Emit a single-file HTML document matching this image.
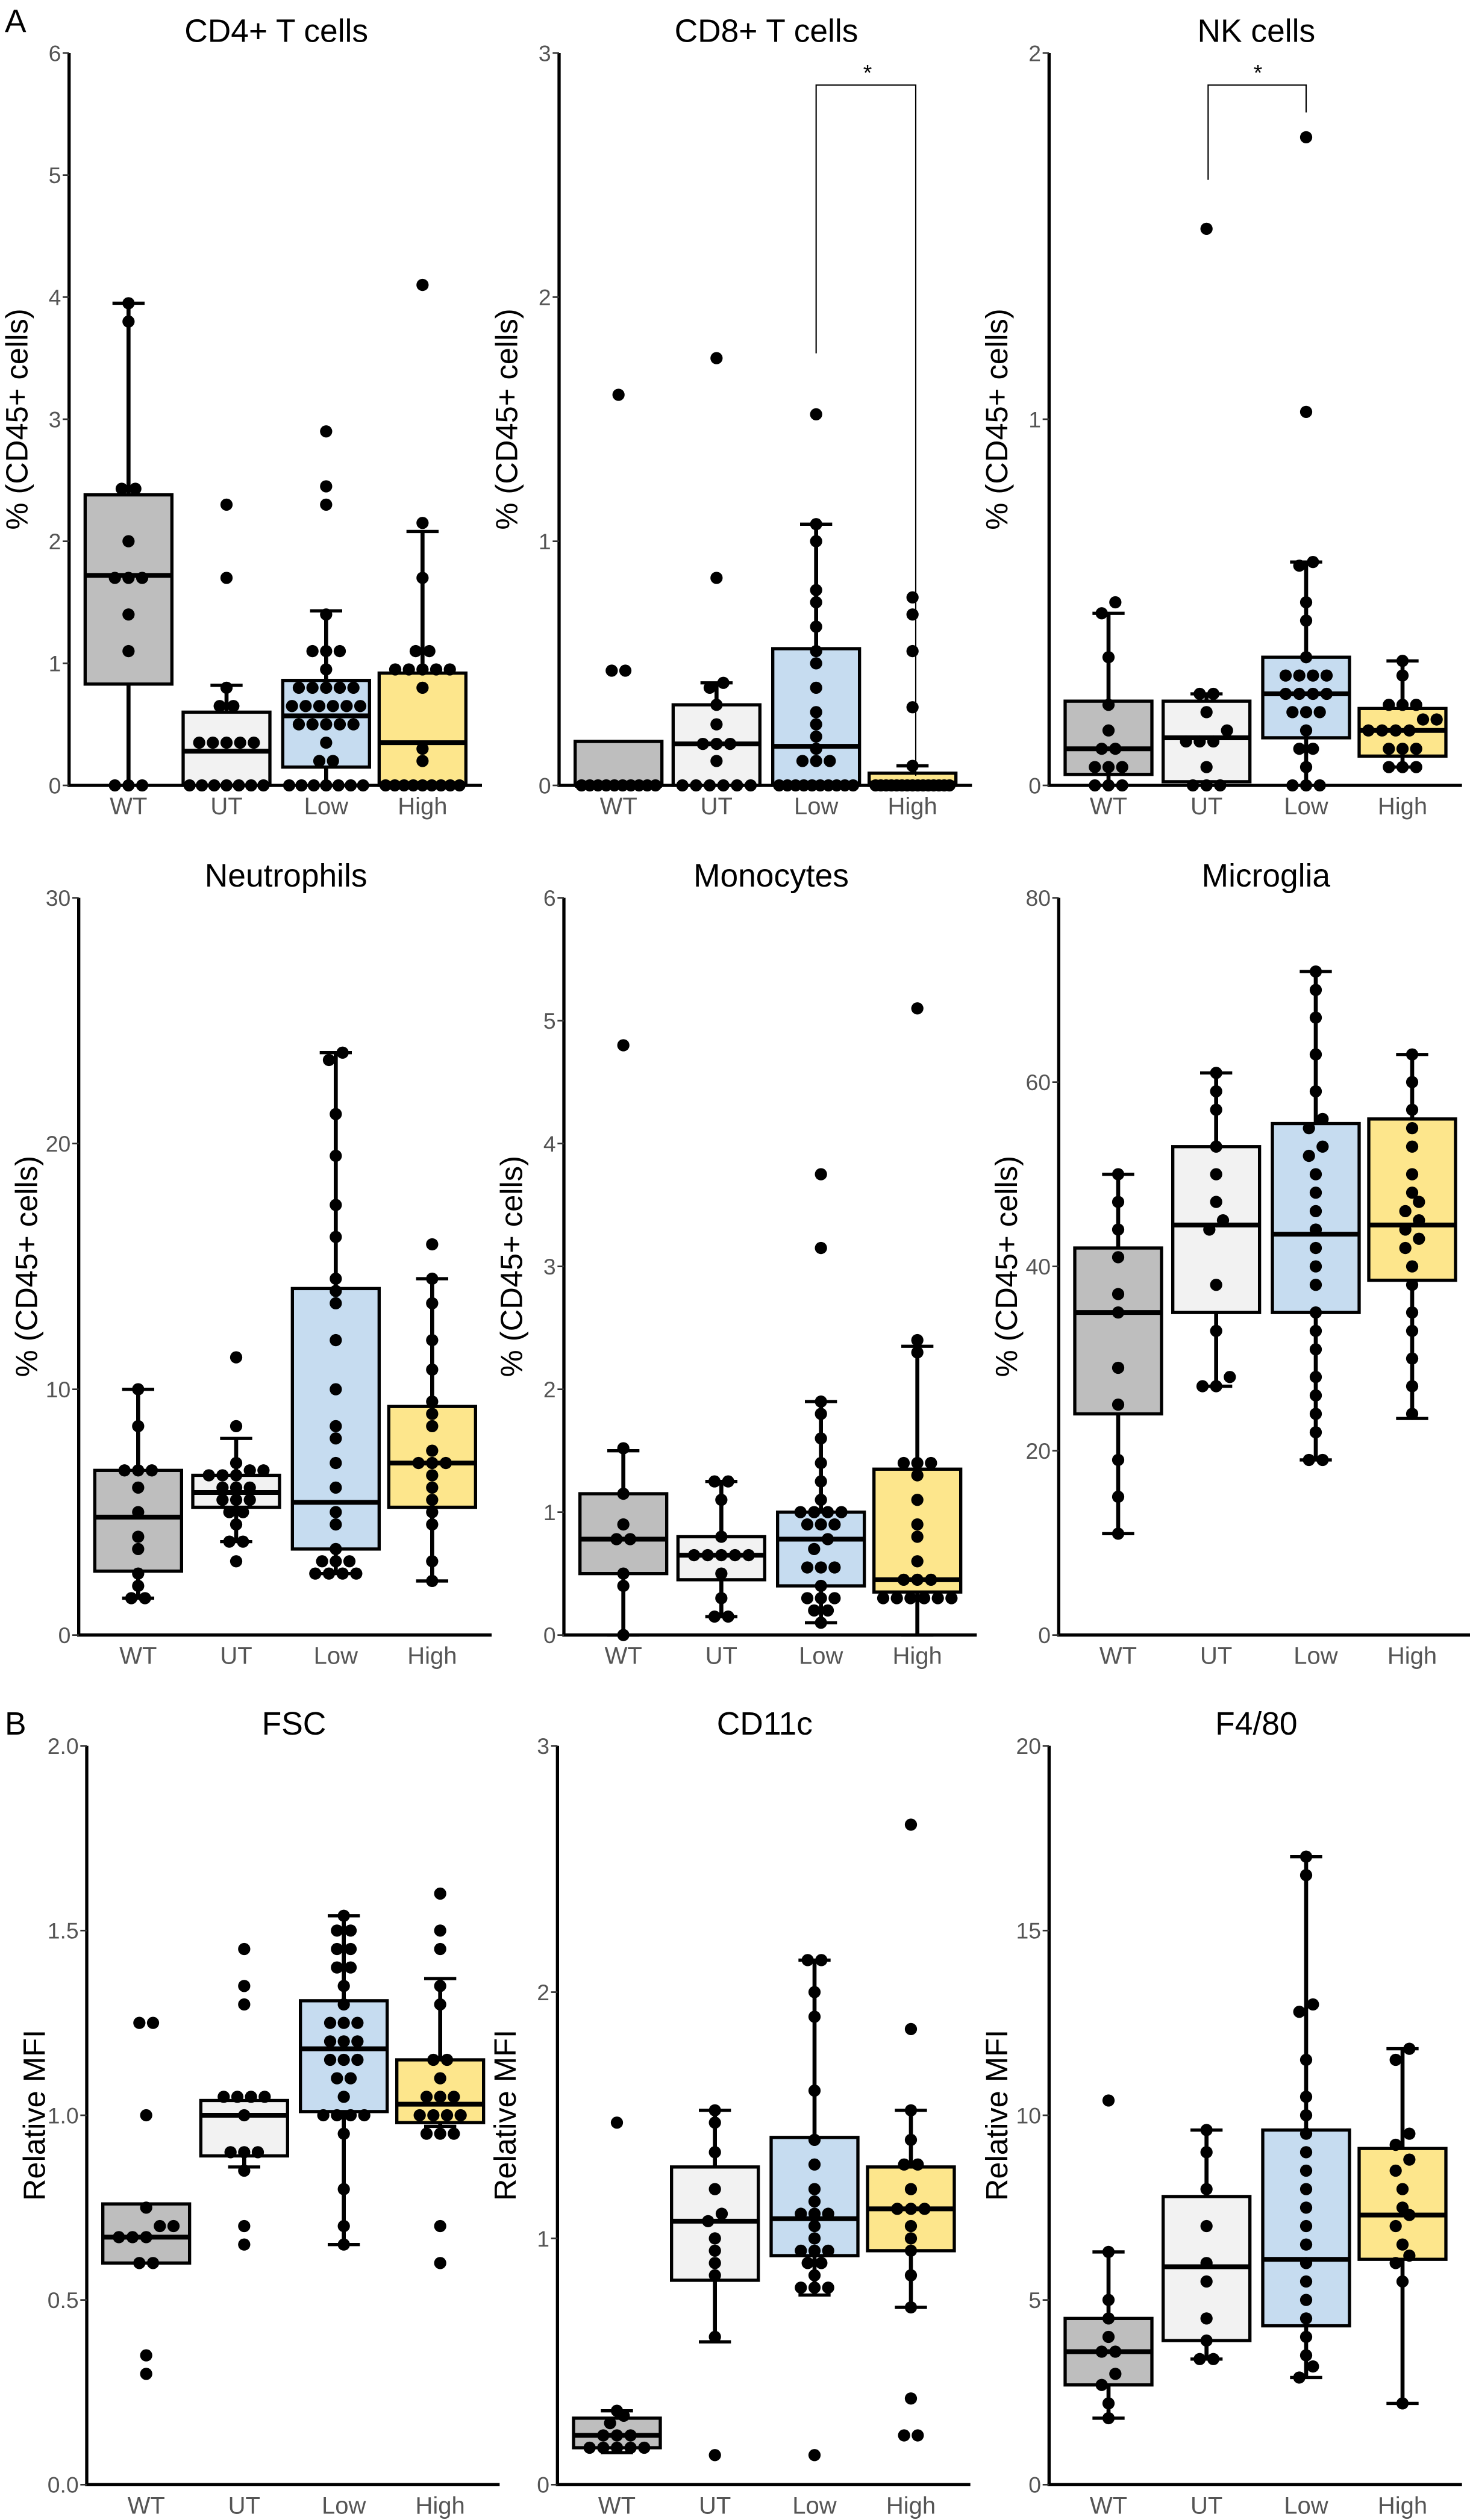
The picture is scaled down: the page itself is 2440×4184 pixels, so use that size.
<!DOCTYPE html>
<html><head><meta charset="utf-8"><style>
html,body{margin:0;padding:0;background:#fff;}
svg{display:block;}
text{font-family:"Liberation Sans",Arial,sans-serif;}
</style></head><body>
<svg id="fig" width="2440" height="4184" viewBox="0 0 915 1569" xmlns="http://www.w3.org/2000/svg">
<text x="3" y="20" font-size="20">A</text>
<text x="3" y="1080" font-size="20">B</text>
</svg>
<script>
const groups = ["WT","UT","Low","High"];
const fills = ["#bebebe","#f2f2f2","#c6dcf0","#fde68c"];

// CD4+ T cells
const cd4Box = [[0,0.83,1.72,2.38,3.95],[0,0,0.28,0.6,0.82],[0,0.15,0.57,0.86,1.43],[0,0,0.35,0.92,2.08]];
const cd4Pts = [[3.95,3.8,2.43,2.43,2.0,1.7,1.7,1.7,1.4,1.1,0,0,0],
 [2.3,1.7,0.8,0.65,0.65,0.35,0.35,0.35,0.35,0.35,0,0,0,0,0,0,0],
 [2.9,2.45,2.3,1.4,1.1,1.1,1.1,0.95,0.8,0.8,0.8,0.8,0.8,0.65,0.65,0.65,0.65,0.65,0.65,0.5,0.5,0.5,0.5,0.5,0.35,0.2,0.2,0,0,0,0,0,0,0],
 [4.1,2.15,1.7,1.1,1.1,0.95,0.95,0.95,0.95,0.95,0.8,0.3,0.2,0,0,0,0,0,0,0,0,0]];
const cd4Ticks = [0,1,2,3,4,5,6];
// CD8+ T cells
const cd8Box = [[0,0,0,0.18,0.18],[0,0,0.17,0.33,0.42],[0,0,0.16,0.56,1.07],[0,0,0.01,0.05,0.08]];
const cd8Pts = [[1.6,0.47,0.47,0,0,0,0,0,0,0,0,0,0],
 [1.75,0.85,0.42,0.4,0.33,0.25,0.17,0.17,0.17,0.1,0,0,0,0,0,0],
 [1.52,1.07,1.0,0.8,0.75,0.65,0.55,0.5,0.4,0.3,0.25,0.2,0.15,0.1,0.1,0.1,0,0,0,0,0,0,0,0,0,0],
 [0.77,0.7,0.55,0.32,0.08,0,0,0,0,0,0,0,0,0,0,0,0,0,0,0]];
const cd8Ticks = [0,1,2,3];
// NK cells
const nkBox = [[0,0.03,0.1,0.23,0.47],[0,0.01,0.13,0.23,0.25],[0,0.13,0.25,0.35,0.61],[0.05,0.08,0.15,0.21,0.34]];
const nkPts = [[0.5,0.47,0.35,0.22,0.15,0.1,0.1,0.05,0.05,0.05,0,0,0],
 [1.52,0.25,0.25,0.2,0.15,0.12,0.12,0.12,0.05,0,0,0],
 [1.77,1.02,0.61,0.6,0.5,0.45,0.35,0.3,0.3,0.3,0.3,0.25,0.25,0.25,0.25,0.2,0.2,0.2,0.15,0.1,0.1,0.05,0,0,0],
 [0.34,0.3,0.22,0.22,0.22,0.18,0.18,0.15,0.15,0.15,0.15,0.1,0.1,0.1,0.05,0.05,0.05]];
const nkTicks = [0,1,2];
// Neutrophils
const neuBox = [[1.5,2.6,4.8,6.7,10],[3.8,5.2,5.8,6.5,8],[2.5,3.5,5.4,14.1,23.7],[2.2,5.2,7,9.3,14.5]];
const neuPts = [[10,8.5,6.7,6.7,6.7,6,5,4,3.5,2.5,2,1.5,1.5],
 [11.3,8.5,7,6.7,6.7,6.5,6.5,6.5,6,6,6,5.5,5.5,5.5,5,5,4.5,3.8,3.8,3],
 [23.7,23.4,21.2,19.5,17.5,16.2,14.5,14,13.5,12,10,8.5,8,7,6,5,4.5,3.5,3,3,3,2.5,2.5,2.5,2.5],
 [15.9,14.5,13.5,12,10.8,9.5,9,8.5,7.5,7,7,7,6.5,6,5.5,5,4.5,3,2.2]];
const neuTicks = [0,10,20,30];
// Monocytes
const monBox = [[0,0.5,0.78,1.15,1.5],[0.15,0.45,0.65,0.8,1.25],[0.1,0.4,0.78,1.0,1.9],[0,0.35,0.45,1.35,2.35]];
const monPts = [[4.8,1.52,1.15,0.9,0.78,0.78,0.5,0.4,0],
 [1.25,1.25,1.1,0.8,0.65,0.65,0.65,0.65,0.65,0.5,0.3,0.15,0.15],
 [3.75,3.15,1.9,1.8,1.6,1.4,1.25,1.1,1.0,1.0,1.0,1.0,0.9,0.9,0.9,0.78,0.7,0.55,0.55,0.55,0.4,0.3,0.3,0.3,0.2,0.2,0.1],
 [5.1,2.4,2.3,1.4,1.4,1.4,1.3,1.1,0.9,0.8,0.6,0.45,0.45,0.45,0.3,0.3,0.3,0.3,0.3,0.3]];
const monTicks = [0,1,2,3,4,5,6];
// Microglia
const micBox = [[11,24,35,42,50],[27,35,44.5,53,61],[19,35,43.5,55.5,72],[23.5,38.5,44.5,56,63]];
const micPts = [[50,47,44,41,37,35,29,25,19,15,11],
 [61,59,57,53,50,47,45,44,38,33,28,27,27],
 [72,70,67,63,59,56,55,53,52,50,48,46,44,42,40,38,35,33,31,28,26,24,22,19,19],
 [63,60,57,55,53,50,48,47,46,45,44,43,42,40,38,35,33,30,27,24]];
const micTicks = [0,20,40,60,80];
// FSC
const fscBox = [[0.6,0.6,0.67,0.76,0.76],[0.86,0.89,1.0,1.04,1.04],[0.65,1.01,1.18,1.31,1.54],[0.97,0.98,1.03,1.15,1.37]];
const fscPts = [[1.25,1.25,1.0,0.75,0.7,0.7,0.67,0.67,0.67,0.6,0.6,0.35,0.3],
 [1.45,1.35,1.3,1.05,1.05,1.05,1.05,1.0,0.9,0.9,0.9,0.85,0.7,0.65],
 [1.54,1.5,1.5,1.45,1.45,1.4,1.4,1.35,1.3,1.25,1.25,1.25,1.2,1.2,1.2,1.15,1.15,1.15,1.1,1.1,1.05,1.0,1.0,1.0,1.0,0.95,0.8,0.7,0.65],
 [1.6,1.5,1.45,1.35,1.3,1.15,1.15,1.1,1.05,1.05,1.05,1.0,1.0,1.0,1.0,0.95,0.95,0.95,0.7,0.6]];
const fscTicks = [0,0.5,1,1.5,2];
// CD11c
const c11Box = [[0.13,0.15,0.2,0.27,0.3],[0.58,0.83,1.07,1.29,1.52],[0.77,0.93,1.08,1.41,2.13],[0.72,0.95,1.12,1.29,1.52]];
const c11Pts = [[1.47,0.3,0.28,0.25,0.2,0.2,0.2,0.15,0.15,0.15,0.15,0.15],
 [1.52,1.47,1.35,1.2,1.1,1.07,1.0,0.95,0.9,0.85,0.6,0.12],
 [2.13,2.13,2.0,1.9,1.6,1.4,1.3,1.2,1.15,1.1,1.1,1.1,1.05,1.0,0.95,0.95,0.95,0.9,0.9,0.85,0.8,0.8,0.8,0.12],
 [2.68,1.85,1.52,1.4,1.3,1.3,1.2,1.12,1.12,1.12,1.05,1.0,0.95,0.85,0.72,0.35,0.2,0.2]];
const c11Ticks = [0,1,2,3];
// F4/80
const f48Box = [[1.8,2.7,3.6,4.5,6.3],[3.4,3.9,5.9,7.8,9.6],[2.9,4.3,6.1,9.6,17],[2.2,6.1,7.3,9.1,11.8]];
const f48Pts = [[10.4,6.3,5,4.5,4,3.6,3.6,3,2.7,2.2,1.8],
 [9.6,9,8,7,6,5.5,4.5,3.9,3.4,3.4],
 [17,16.5,13,12.8,11.5,10.5,10,9.5,9,8.5,8,7.5,7,6.5,6,5.5,5,4.5,4,3.5,3.2,2.9],
 [11.8,11.5,9.5,9.2,8.8,8.5,8,7.5,7.3,7,6.5,6.2,6,5.5,2.2]];
const f48Ticks = [0,5,10,15,20];

const panels = [
 {title:"CD4+ T cells",name:"cd4",box:cd4Box,pts:cd4Pts,ticks:cd4Ticks,ax:43,top:33,bot:489,yt:"% (CD45+ cells)",lab:(v)=>String(v)},
 {title:"CD8+ T cells",name:"cd8",box:cd8Box,pts:cd8Pts,ticks:cd8Ticks,ax:348,top:33,bot:489,yt:"% (CD45+ cells)",lab:(v)=>String(v)},
 {title:"NK cells",name:"nk",box:nkBox,pts:nkPts,ticks:nkTicks,ax:653,top:33,bot:489,yt:"% (CD45+ cells)",lab:(v)=>String(v)},
 {title:"Neutrophils",name:"neutrophils",box:neuBox,pts:neuPts,ticks:neuTicks,ax:49,top:559,bot:1018,yt:"% (CD45+ cells)",lab:(v)=>String(v)},
 {title:"Monocytes",name:"monocytes",box:monBox,pts:monPts,ticks:monTicks,ax:351,top:559,bot:1018,yt:"% (CD45+ cells)",lab:(v)=>String(v)},
 {title:"Microglia",name:"microglia",box:micBox,pts:micPts,ticks:micTicks,ax:659,top:559,bot:1018,yt:"% (CD45+ cells)",lab:(v)=>String(v)},
 {title:"FSC",name:"fsc",box:fscBox,pts:fscPts,ticks:fscTicks,ax:54,top:1087,bot:1547,yt:"Relative MFI",lab:(v)=>v.toFixed(1)},
 {title:"CD11c",name:"cd11c",box:c11Box,pts:c11Pts,ticks:c11Ticks,ax:347,top:1087,bot:1547,yt:"Relative MFI",lab:(v)=>String(v)},
 {title:"F4/80",name:"f480",box:f48Box,pts:f48Pts,ticks:f48Ticks,ax:653,top:1087,bot:1547,yt:"Relative MFI",lab:(v)=>String(v)}
];
const NS="http://www.w3.org/2000/svg";
const svg=document.getElementById('fig');
function mk(tag,attrs,parent){const e=document.createElementNS(NS,tag);for(const k in attrs)e.setAttribute(k,attrs[k]);(parent||svg).appendChild(e);return e;}
const offs=[37,98,160,220];
const bw=54;
panels.forEach((p)=>{
  const g=mk('g',{});
  
  
  const maxT=p.ticks[p.ticks.length-1];
  const y=(v)=>p.bot-(v/maxT)*(p.bot-p.top);
  const cx=(i)=>p.ax+offs[i];
  const t=mk('text',{x:p.ax+129,y:p.top-7,'font-size':20,'text-anchor':'middle',fill:'#000'},g);
  t.textContent=p.title;
  
  
  const yx=p.ax-26, ym=(p.top+p.bot)/2;
  const yt=mk('text',{x:yx,y:ym,'font-size':19,'text-anchor':'middle',transform:`rotate(-90 ${yx} ${ym})`,fill:'#000'},g);
  yt.textContent=p.yt;
  
  
  const ya=mk('line',{x1:p.ax,y1:p.top,x2:p.ax,y2:p.bot,stroke:'#000','stroke-width':2},g);
  
  
  const xa=mk('line',{x1:p.ax-1,y1:p.bot,x2:p.ax+257,y2:p.bot,stroke:'#000','stroke-width':2},g);
  
  
  p.ticks.forEach(v=>{
    mk('line',{x1:p.ax-4,y1:y(v),x2:p.ax,y2:y(v),stroke:'#333','stroke-width':1},g);
    const tl=mk('text',{x:p.ax-5,y:y(v)+5,'font-size':14,'text-anchor':'end',fill:'#555'},g);
    tl.textContent=p.lab(v);
    
    
  });
  groups.forEach((gn,i)=>{
    const c=cx(i);
    const b=p.box[i];
    mk('line',{x1:c,y1:y(b[0]),x2:c,y2:y(b[4]),stroke:'#000','stroke-width':2.5},g);
    if(b[4]>b[3]) mk('line',{x1:c-10,y1:y(b[4]),x2:c+10,y2:y(b[4]),stroke:'#000','stroke-width':2},g);
    if(b[0]<b[1]) mk('line',{x1:c-10,y1:y(b[0]),x2:c+10,y2:y(b[0]),stroke:'#000','stroke-width':2},g);
    const r=mk('rect',{x:c-bw/2,y:y(b[3]),width:bw,height:Math.max(y(b[1])-y(b[3]),1),fill:fills[i],stroke:'#000','stroke-width':2},g);
    
    
    const m=mk('line',{x1:c-bw/2,y1:y(b[2]),x2:c+bw/2,y2:y(b[2]),stroke:'#000','stroke-width':3},g);
    
    
    const pts=p.pts[i].slice().sort((a,b)=>a-b);
    const bins=[];
    pts.forEach(v=>{const py=y(v);const last=bins[bins.length-1];if(last&&Math.abs(last.y0-py)<7){last.items.push(py);}else bins.push({y0:py,items:[py]});});
    bins.forEach(bn=>{
      const n=bn.items.length;
      const sp=n>1?Math.min(8.5,46/(n-1)):0;
      bn.items.forEach((py,k)=>{
        const dx=(k-(n-1)/2)*sp;
        const d=mk('circle',{cx:c+dx,cy:py,r:3.8,fill:'#000'},g);
        
        
      });
    });
    const xl=mk('text',{x:c,y:p.bot+18,'font-size':15,'text-anchor':'middle',fill:'#555'},g);
    xl.textContent=gn;
    
    
  });
});
function bracket(x1,y1a,x2,y2a,yt,sx){
  const pl=mk('polyline',{points:`${x1},${y1a} ${x1},${yt} ${x2},${yt} ${x2},${y2a}`,fill:'none',stroke:'#000','stroke-width':0.8});
  
  
  const s=mk('text',{x:sx,y:yt-3,'font-size':14,'text-anchor':'middle'});
  s.textContent='*';
  
  
}
bracket(508,220,570,483,53,540);
bracket(752,112,813,70,53,783);
</script>
</body></html>
